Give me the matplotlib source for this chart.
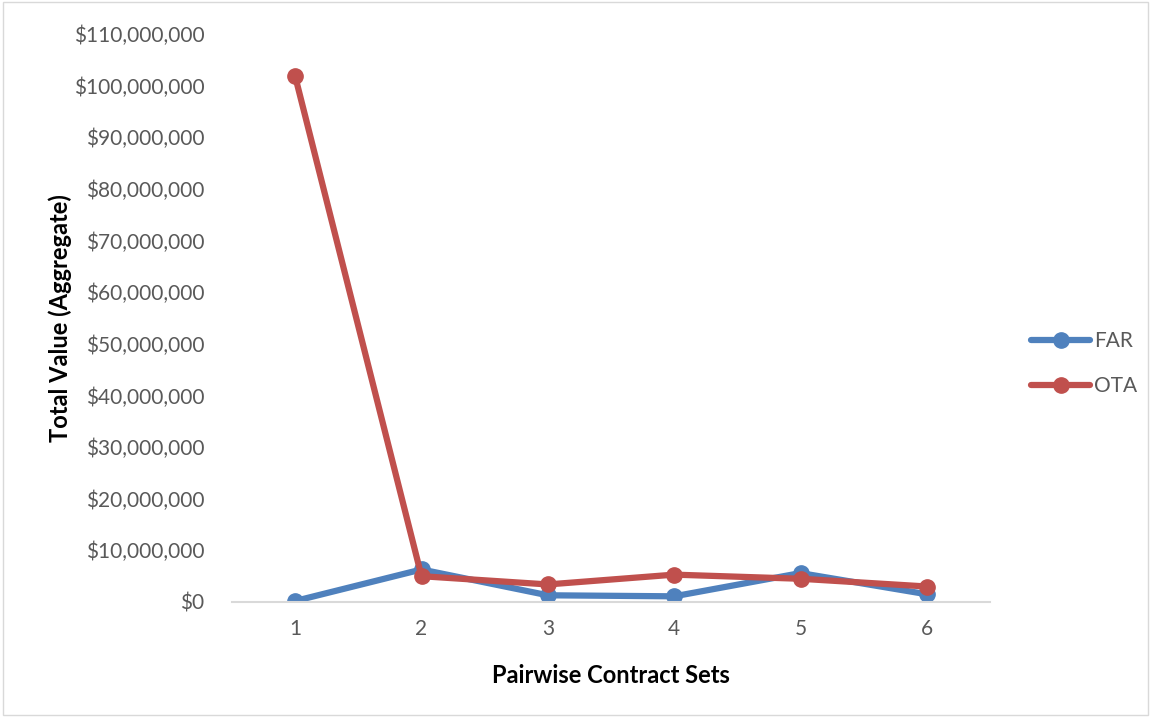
import matplotlib.pyplot as plt
from matplotlib.ticker import FuncFormatter

plt.rcParams['font.family'] = ['Lato', 'DejaVu Sans']

sets = [1, 2, 3, 4, 5, 6]
far = [200000, 6300000, 1300000, 1100000, 5600000, 1500000]
ota = [101800000, 5000000, 3400000, 5300000, 4500000, 3000000]

fig = plt.figure(figsize=(11.51, 7.17), dpi=100)
ax = fig.add_axes([232 / 1151, 1 - 602 / 717, (990 - 232) / 1151, (602 - 34) / 717])

ax.plot(sets, far, color='#4f81bd', lw=4.5, marker='o', ms=11, label='FAR',
        solid_capstyle='round')
ax.plot(sets, ota, color='#c0504d', lw=4.5, marker='o', ms=11, label='OTA',
        solid_capstyle='round')

ax.set_xlim(0.5, 6.5)
ax.set_ylim(0, 110000000)
ax.set_yticks(range(0, 110000001, 10000000))
ax.set_xticks(sets)
ax.yaxis.set_major_formatter(FuncFormatter(lambda v, p: '${:,.0f}'.format(v)))

for s in ['top', 'right', 'left']:
    ax.spines[s].set_visible(False)
ax.spines['bottom'].set_color('#d9d9d9')
ax.spines['bottom'].set_linewidth(1.5)
ax.tick_params(length=0, labelsize=15, colors='#595959', pad=12)
ax.tick_params(axis='y', pad=20)

ax.set_xlabel('Pairwise Contract Sets', fontsize=17, fontweight='bold', labelpad=18)
ax.set_ylabel('Total Value (Aggregate)', fontsize=17, fontweight='bold', labelpad=1)

leg = ax.legend(loc='center left', bbox_to_anchor=(1.03, 0.42), frameon=False,
                fontsize=15, labelspacing=1.2, handlelength=2.8, handletextpad=0.2)
for t in leg.get_texts():
    t.set_color('#595959')

fig.patches.append(plt.Rectangle((0.003, 0.003), 0.994, 0.994, transform=fig.transFigure,
                                 fill=False, edgecolor='#d9d9d9', lw=1))

plt.savefig('out.png', dpi=100)
